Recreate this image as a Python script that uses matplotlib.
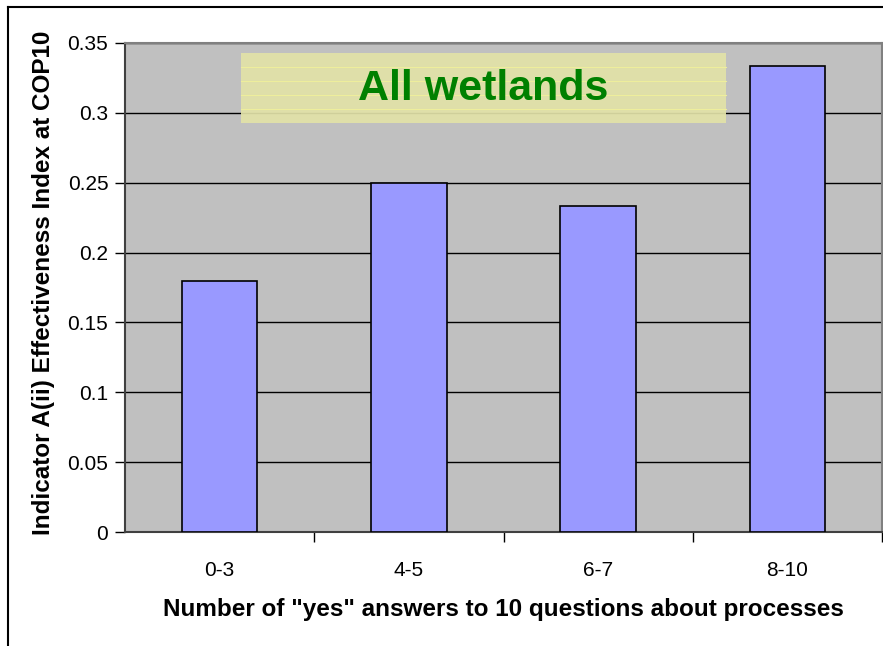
import matplotlib

matplotlib.use("Agg")
import matplotlib.pyplot as plt
from matplotlib.patches import Rectangle
from matplotlib.lines import Line2D

plt.rcParams["font.family"] = ["Liberation Sans", "DejaVu Sans"]

categories = ["0-3", "4-5", "6-7", "8-10"]
values = [0.18, 0.25, 0.2333, 0.3333]
yticks = [0, 0.05, 0.1, 0.15, 0.2, 0.25, 0.3, 0.35]
ytick_labels = ["0", "0.05", "0.1", "0.15", "0.2", "0.25", "0.3", "0.35"]

fig = plt.figure(figsize=(8.83, 6.46), dpi=100)
W, H = 883, 646
ax = fig.add_axes([125 / W, 1 - 532 / H, (882 - 125) / W, (532 - 43) / H])
ax.set_facecolor("#c0c0c0")

# outer chart frame (top and left edges only visible)
fig.add_artist(Line2D([8 / W, 1], [1 - 6.5 / H] * 2, color="black", lw=1.5))
fig.add_artist(Line2D([8 / W] * 2, [1 - 6.5 / H, 0], color="black", lw=1.5))

x = range(len(categories))
ax.bar(x, values, width=0.4, color="#9999ff", edgecolor="black", linewidth=1.2, zorder=3)

ax.set_xlim(-0.5, len(categories) - 0.5)
ax.set_ylim(0, 0.35)
ax.set_yticks(yticks)
ax.set_yticklabels(ytick_labels, fontsize=15)
ax.yaxis.grid(True, color="black", linewidth=1.0, zorder=1)
ax.set_axisbelow(True)

ax.set_xticks(list(x))
ax.set_xticklabels(categories, fontsize=15)
ax.tick_params(axis="x", length=0, pad=21)
ax.set_xticks([i + 0.5 for i in range(len(categories))], minor=True)
ax.tick_params(axis="x", which="minor", length=7, width=1, direction="out", color="black")
ax.tick_params(axis="y", length=7, width=1, direction="out", pad=5)

for side in ("top", "right"):
    ax.spines[side].set_color("#808080")
    ax.spines[side].set_linewidth(1.5)
for side in ("left", "bottom"):
    ax.spines[side].set_color("#404040")
    ax.spines[side].set_linewidth(1.5)

ax.set_xlabel('Number of "yes" answers to 10 questions about processes',
              fontsize=17.5, fontweight="bold", labelpad=13)
ax.set_ylabel("Indicator A(ii) Effectiveness Index at COP10",
              fontsize=17.5, fontweight="bold")
ax.yaxis.set_label_coords(-0.093, 0.51)

# title box
box = Rectangle((0.153, 0.836), 0.641, 0.144, transform=ax.transAxes,
                facecolor="#e2e2a8", alpha=0.92, edgecolor="none", zorder=2)
ax.add_patch(box)
for frac in (0.2, 0.4, 0.6, 0.8):
    ax.add_line(Line2D([0.153, 0.794], [0.836 + 0.144 * frac] * 2, transform=ax.transAxes,
                       color="#eeee9c", lw=0.8, zorder=2))
ax.text(0.473, 0.905, "All wetlands", transform=ax.transAxes, ha="center", va="center",
        fontsize=31, fontweight="bold", color="#008000", zorder=4)

fig.savefig("out.png", dpi=100)
